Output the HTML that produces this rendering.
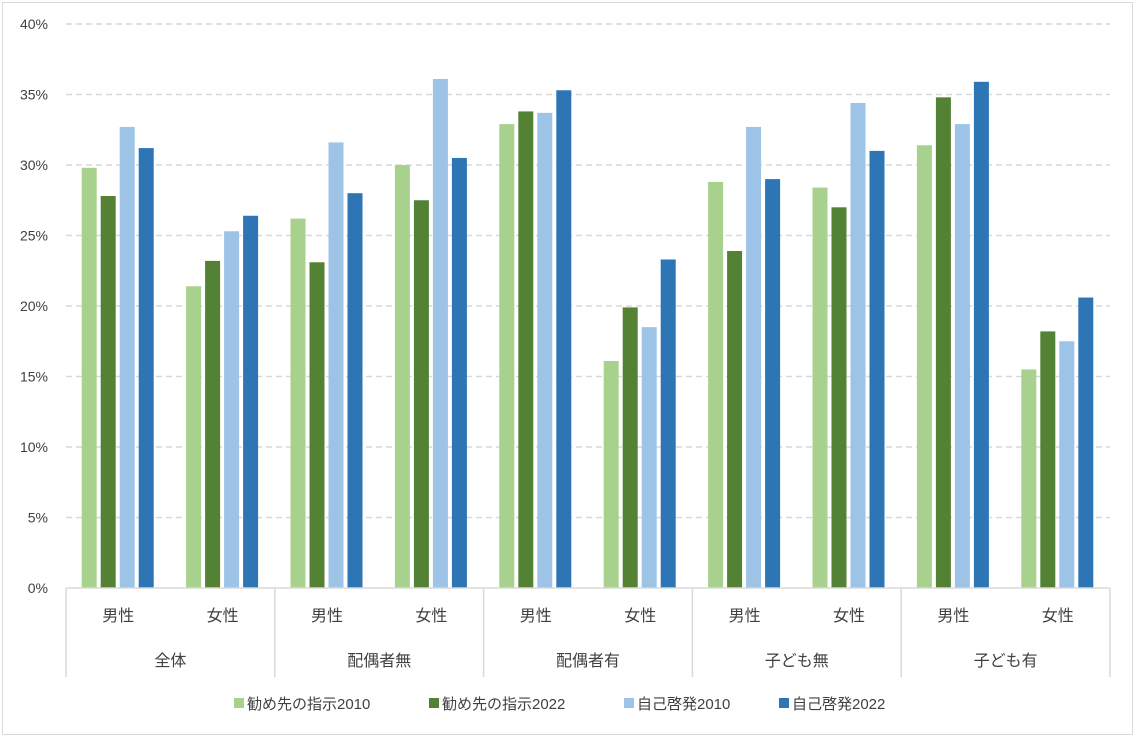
<!DOCTYPE html>
<html><head><meta charset="utf-8"><style>
body{margin:0;background:#fff;font-family:"Liberation Sans","Noto Sans CJK JP",sans-serif;}
svg text{font-family:"Liberation Sans","Noto Sans CJK JP",sans-serif;fill:#404040;}
</style></head><body>
<svg id="chart" width="1135" height="737" xmlns="http://www.w3.org/2000/svg">
<rect x="2.5" y="2.5" width="1130" height="732" fill="#fff" stroke="#d9d9d9" stroke-width="1"/>
<g id="grid"></g><g id="bars"></g><g id="axes"></g><g id="legend"></g>
</svg>
<script>
const groups=["全体","配偶者無","配偶者有","子ども無","子ども有"];
const subs=["男性","女性"];
const seriesNames=["勧め先の指示2010","勧め先の指示2022","自己啓発2010","自己啓発2022"];
const s2010a=[29.8,21.4,26.2,30.0,32.9,16.1,28.8,28.4,31.4,15.5];
const s2022a=[27.8,23.2,23.1,27.5,33.8,19.9,23.9,27.0,34.8,18.2];
const s2010b=[32.7,25.3,31.6,36.1,33.7,18.5,32.7,34.4,32.9,17.5];
const s2022b=[31.2,26.4,28.0,30.5,35.3,23.3,29.0,31.0,35.9,20.6];
const yTicks=[0,5,10,15,20,25,30,35,40];
const colors=["#a9d18e","#548235","#9dc3e6","#2e75b6"];
const NS="http://www.w3.org/2000/svg";
const X0=66,X1=1110,Y0=588,Y1=24,YMAX=40;
const y=v=>Y0-(v/YMAX)*(Y0-Y1);
const nCat=s2010a.length, cw=(X1-X0)/nCat;
const cx=i=>X0+cw*(i+0.5);
function mk(t,a,p){const e=document.createElementNS(NS,t);for(const k in a)e.setAttribute(k,a[k]);p.appendChild(e);return e;}
const grid=document.getElementById('grid'),bars=document.getElementById('bars'),axes=document.getElementById('axes'),leg=document.getElementById('legend');
yTicks.forEach(t=>{
 if(t>0){const l=mk('line',{x1:X0,x2:X1,y1:y(t),y2:y(t),stroke:'#d9d9d9','stroke-width':1.5,'stroke-dasharray':'6,4'},grid);
 
 }
 const tx=mk('text',{x:48,y:y(t)+5,'text-anchor':'end','font-size':14},axes);tx.textContent=t+'%';
 
 
});
const series=[s2010a,s2022a,s2010b,s2022b];
const bw=15,step=19;
series.forEach((s,si)=>{s.forEach((v,i)=>{
 const r=mk('rect',{x:cx(i)-36.5+si*step,y:y(v),width:bw,height:Y0-y(v),fill:colors[si]},bars);
 
 
});});
mk('line',{x1:X0,x2:X1,y1:Y0,y2:Y0,stroke:'#d9d9d9','stroke-width':1.5},axes);
for(let g=0;g<=groups.length;g++){const x=X0+cw*2*g;
 const l=mk('line',{x1:x,x2:x,y1:Y0,y2:677,stroke:'#d9d9d9','stroke-width':1.5},axes);
 
 }
for(let i=0;i<nCat;i++){const t=mk('text',{x:cx(i),y:621,'text-anchor':'middle','font-size':16},axes);t.textContent=subs[i%2];
 
 }
groups.forEach((g,gi)=>{const t=mk('text',{x:X0+cw*(2*gi+1),y:666,'text-anchor':'middle','font-size':16},axes);t.textContent=g;
 
 });
const lx=[234,429,624,779];
seriesNames.forEach((n,i)=>{
 const r=mk('rect',{x:lx[i],y:698,width:10,height:10,fill:colors[i]},leg);
 
 
 const t=mk('text',{x:lx[i]+13,y:709,'font-size':15},leg);t.textContent=n;
 
 
});
</script>
</body></html>
